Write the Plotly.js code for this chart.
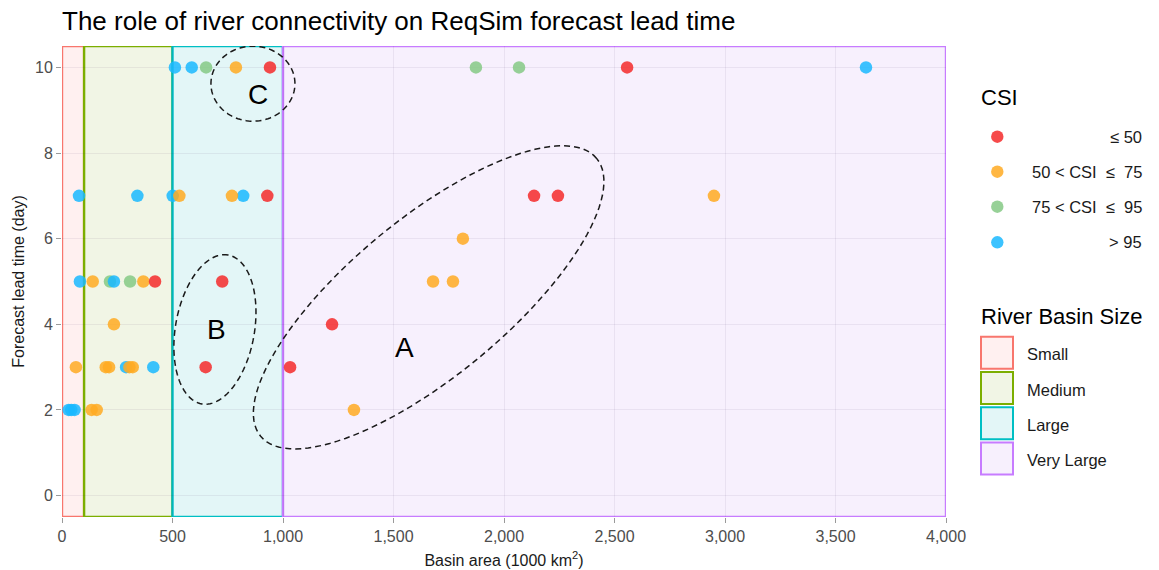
<!DOCTYPE html>
<html>
<head>
<meta charset="utf-8">
<script src="https://cdn.plot.ly/plotly-3.0.1.min.js"></script>
<style>html,body{margin:0;padding:0;background:#fff;}#chart{width:1159px;height:570px;}</style>
</head>
<body>
<div id="chart"></div>
<script>
// ---------- data ----------
const csiLabels = ['\u2264 50', '50 < CSI  \u2264  75', '75 < CSI  \u2264  95', '> 95'];
const csiColors = ['#F52A2A', '#FFAA22', '#85C985', '#1AB8FF'];

const redX = [941, 2557, 929, 2136, 2244, 421, 725, 1222, 650, 1032];
const redY = [10, 10, 7, 7, 7, 5, 5, 4, 3, 3];
const orangeX = [787, 531, 769, 2950, 1814, 139, 368, 1679, 1769, 235, 63, 198, 213, 305, 320, 134, 157, 1321];
const orangeY = [10, 7, 7, 7, 6, 5, 5, 5, 5, 4, 3, 3, 3, 3, 3, 2, 2, 2];
const greenX = [652, 1873, 2068, 217, 308];
const greenY = [10, 10, 10, 5, 5];
const blueX = [511, 587, 3638, 77, 341, 501, 820, 81, 235, 290, 413, 30, 42, 57];
const blueY = [10, 10, 10, 7, 7, 7, 7, 5, 5, 3, 3, 2, 2, 2];

const basinLabels = ['Small', 'Medium', 'Large', 'Very Large'];
const basinBounds = [0, 100, 500, 1000, 4000];
const basinLine = ['#F8766D', '#7CAE00', '#00BFC4', '#C77CFF'];
const basinFill = ['#FFF0F0', '#F1F5E5', '#E3F6F7', '#F7F0FD'];

const xTicks = [0, 500, 1000, 1500, 2000, 2500, 3000, 3500, 4000];
const yTicks = [0, 2, 4, 6, 8, 10];

// groups (circled clusters): label, centre (data), semi-axes (px), angle (deg)
const groupLabels = ['A', 'B', 'C'];
const groupCx = [1659, 692, 864];
const groupCy = [4.63, 3.88, 9.62];
const groupA = [218, 75.6, 42];
const groupB = [78.6, 39.5, 37.5];
const groupAng = [39.6, 80, 0];
const labelX = [1548, 697, 887];
const labelY = [3.45, 3.87, 9.36];

// ---------- layout geometry ----------
const W = 1159, H = 570;
const M = {l: 62, r: 213, t: 46, b: 53};
const plotW = W - M.l - M.r, plotH = H - M.t - M.b;
const xRange = [0, 4000], yRange = [-0.5, 10.5];
const xScale = plotW / (xRange[1] - xRange[0]);
const yScale = plotH / (yRange[1] - yRange[0]);
const px = v => (v - M.l) / plotW;          // page px -> paper x
const py = v => (H - M.b - v) / plotH;      // page px -> paper y

const FONT = 'Liberation Sans, Arial, sans-serif';

// ---------- traces ----------
const series = [
  {x: greenX, y: greenY, i: 2},
  {x: blueX, y: blueY, i: 3},
  {x: orangeX, y: orangeY, i: 1},
  {x: redX, y: redY, i: 0}
];
const traces = series.map(s => ({
  type: 'scatter', mode: 'markers', x: s.x, y: s.y, name: csiLabels[s.i],
  marker: {size: 12.5, color: csiColors[s.i], opacity: 0.85, line: {width: 0}},
  showlegend: false, hoverinfo: 'x+y'
}));

// ---------- shapes ----------
const shapes = [];
basinLabels.forEach((lab, i) => {
  shapes.push({type: 'rect', xref: 'x', yref: 'y', layer: 'below',
    x0: basinBounds[i], x1: basinBounds[i + 1], y0: yRange[0], y1: yRange[1],
    fillcolor: basinFill[i], line: {color: basinLine[i], width: 2.4}});
});

function ellipsePath(cx, cy, a, b, angDeg) {
  const th = angDeg * Math.PI / 180;
  let d = '';
  for (let k = 0; k <= 120; k++) {
    const t = 2 * Math.PI * k / 120;
    const dx = a * Math.cos(t) * Math.cos(th) - b * Math.sin(t) * Math.sin(th);
    const dy = a * Math.cos(t) * Math.sin(th) + b * Math.sin(t) * Math.cos(th);
    const X = cx + dx / xScale, Y = cy + dy / yScale;
    d += (k === 0 ? 'M' : 'L') + X.toFixed(3) + ',' + Y.toFixed(4);
  }
  return d + 'Z';
}
groupLabels.forEach((g, i) => {
  shapes.push({type: 'path', xref: 'x', yref: 'y', layer: 'above',
    path: ellipsePath(groupCx[i], groupCy[i], groupA[i], groupB[i], groupAng[i]),
    line: {color: '#1a1a1a', width: 1.5, dash: '6px,4px'}});
});

// manual legend: CSI markers
const csiY = [136.7, 171.7, 206.7, 242.3];
csiLabels.forEach((lab, i) => {
  shapes.push({type: 'circle', xref: 'paper', yref: 'paper',
    xsizemode: 'pixel', ysizemode: 'pixel', xanchor: px(997.3), yanchor: py(csiY[i]),
    x0: -6.2, x1: 6.2, y0: -6.2, y1: 6.2,
    fillcolor: csiColors[i], opacity: 0.85, line: {width: 0}});
});
// manual legend: basin size boxes
const boxTop = [336.7, 372, 407.3, 442.6];
basinLabels.forEach((lab, i) => {
  shapes.push({type: 'rect', xref: 'paper', yref: 'paper',
    xsizemode: 'pixel', ysizemode: 'pixel', xanchor: px(981), yanchor: py(boxTop[i]),
    x0: 0, x1: 32, y0: -32, y1: 0,
    fillcolor: basinFill[i], line: {color: basinLine[i], width: 2}});
});

// ---------- annotations ----------
const annotations = [];
groupLabels.forEach((g, i) => {
  annotations.push({xref: 'x', yref: 'y', x: labelX[i], y: labelY[i], text: g, showarrow: false,
    xanchor: 'center', yanchor: 'middle', font: {family: FONT, size: 28, color: '#000'}});
});
annotations.push({xref: 'paper', yref: 'paper', x: px(979), y: py(98), text: 'CSI', showarrow: false,
  xanchor: 'left', yanchor: 'middle', font: {family: FONT, size: 22, color: '#000'}});
csiLabels.forEach((lab, i) => {
  annotations.push({xref: 'paper', yref: 'paper', x: px(1144), y: py(csiY[i]), text: lab, showarrow: false,
    xanchor: 'right', yanchor: 'middle', font: {family: FONT, size: 16.5, color: '#1a1a1a'}});
});
annotations.push({xref: 'paper', yref: 'paper', x: px(979), y: py(316), text: 'River Basin Size', showarrow: false,
  xanchor: 'left', yanchor: 'middle', font: {family: FONT, size: 22, color: '#000'}});
basinLabels.forEach((lab, i) => {
  annotations.push({xref: 'paper', yref: 'paper', x: px(1025), y: py(boxTop[i] + 17.5), text: lab, showarrow: false,
    xanchor: 'left', yanchor: 'middle', font: {family: FONT, size: 16.5, color: '#1a1a1a'}});
});

const layout = {
  width: W, height: H,
  margin: M,
  paper_bgcolor: '#fff', plot_bgcolor: '#fff',
  font: {family: FONT, color: '#1a1a1a'},
  title: {text: 'The role of river connectivity on ReqSim forecast lead time',
    xref: 'paper', x: 0, xanchor: 'left', yref: 'container', y: 1 - 21 / H, yanchor: 'middle',
    font: {family: FONT, size: 26, color: '#000'}},
  xaxis: {range: xRange, tickvals: xTicks, ticktext: xTicks.map(v => v.toLocaleString('en-US')),
    showgrid: true, gridcolor: 'rgba(60,30,90,0.07)', gridwidth: 1, zeroline: false, showline: false,
    ticks: 'outside', ticklen: 5, tickcolor: '#9a9a9a', tickwidth: 1,
    tickfont: {family: FONT, size: 16, color: '#4D4D4D'},
    title: {text: 'Basin area (1000 km<sup>2</sup>)', standoff: 10, font: {family: FONT, size: 16, color: '#1a1a1a'}},
    fixedrange: true},
  yaxis: {range: yRange, tickvals: yTicks,
    showgrid: true, gridcolor: 'rgba(60,30,90,0.07)', gridwidth: 1, zeroline: false, showline: false,
    ticks: 'outside', ticklen: 5, tickcolor: '#9a9a9a', tickwidth: 1,
    tickfont: {family: FONT, size: 16, color: '#4D4D4D'},
    title: {text: 'Forecast lead time (day)', standoff: 6, font: {family: FONT, size: 16, color: '#1a1a1a'}},
    fixedrange: true},
  showlegend: false,
  shapes: shapes,
  annotations: annotations
};

Plotly.newPlot('chart', traces, layout, {displayModeBar: false, staticPlot: true});
</script>
</body>
</html>
